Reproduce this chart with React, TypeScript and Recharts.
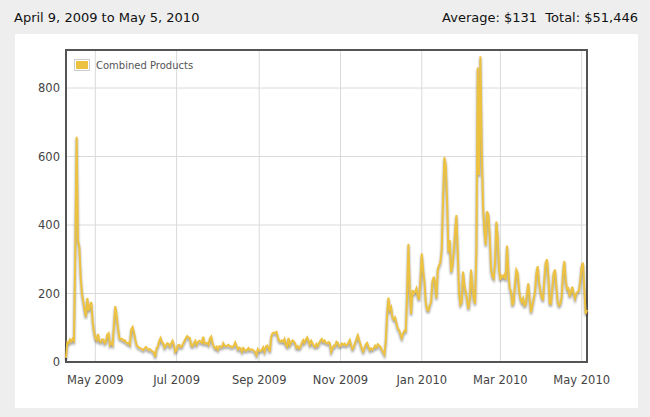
import React from "react";
import {
  LineChart,
  Line,
  XAxis,
  YAxis,
  CartesianGrid,
  Legend,
  ReferenceArea,
} from "recharts";

// daily revenue, Apr 9 2009 .. May 5 2010 (one value per day)
const startDay = "2009-04-09";
const dailySales = [
  12, 58, 55, 66, 60, 68, 62, 330, 658, 356,
  337, 250, 200, 176, 150, 132, 187, 150, 165, 175,
  120, 88, 70, 64, 82, 62, 58, 66, 66, 55,
  60, 80, 84, 50, 56, 50, 110, 163, 137, 100,
  70, 66, 68, 62, 64, 58, 54, 56, 50, 96,
  102, 86, 66, 50, 44, 42, 40, 38, 35, 40,
  44, 40, 35, 38, 34, 30, 28, 15, 41, 45,
  62, 70, 58, 55, 42, 48, 55, 52, 45, 55,
  62, 50, 30, 35, 48, 50, 44, 45, 55, 62,
  70, 76, 72, 70, 48, 46, 55, 62, 50, 58,
  62, 60, 56, 74, 54, 55, 56, 50, 69, 74,
  55, 45, 40, 45, 36, 46, 45, 43, 55, 48,
  46, 48, 50, 45, 45, 43, 48, 57, 47, 37,
  42, 40, 30, 41, 36, 33, 36, 41, 35, 37,
  36, 33, 28, 20, 38, 33, 32, 36, 43, 30,
  45, 48, 42, 30, 74, 84, 86, 85, 88, 72,
  62, 60, 63, 59, 67, 50, 45, 70, 50, 58,
  63, 60, 54, 41, 46, 40, 44, 56, 64, 56,
  66, 72, 62, 50, 62, 55, 47, 44, 53, 47,
  55, 63, 67, 59, 63, 56, 54, 58, 55, 30,
  40, 48, 46, 59, 56, 46, 47, 54, 50, 54,
  48, 50, 57, 64, 48, 38, 44, 57, 67, 78,
  64, 52, 40, 31, 40, 52, 56, 44, 35, 40,
  36, 40, 48, 43, 52, 48, 45, 35, 30, 22,
  60, 140, 188, 152, 160, 130, 124, 130, 113, 97,
  94, 80, 70, 84, 92, 90, 200, 345, 210, 140,
  210, 200, 205, 215, 192, 182, 240, 317, 269, 235,
  175, 152, 150, 166, 175, 235, 249, 230, 186, 270,
  282, 290, 330, 480, 598, 575, 470, 320, 356, 262,
  280, 320, 380, 429, 320, 200, 168, 175, 264, 225,
  205, 180, 155, 181, 270, 220, 185, 170, 327, 860,
  546, 893, 620, 453, 385, 341, 440, 430, 370, 270,
  250, 244, 290, 410, 365, 270, 240, 252, 249, 255,
  240, 340, 265, 215, 205, 165, 175, 230, 269, 260,
  210, 185, 175, 186, 165, 168, 200, 230, 181, 145,
  165, 185, 205, 259, 280, 235, 205, 190, 180, 240,
  290, 300, 250, 171, 170, 215, 260, 270, 220, 175,
  165, 170, 190, 259, 295, 240, 212, 215, 191, 205,
  220, 200, 185, 200, 205, 208, 240, 280, 290, 215,
  140, 152,
];

const monthTicks = [
  "2009-05-01",
  "2009-07-01",
  "2009-09-01",
  "2009-11-01",
  "2010-01-01",
  "2010-03-01",
  "2010-05-01",
];
const monthLabels = [
  "May 2009",
  "Jul 2009",
  "Sep 2009",
  "Nov 2009",
  "Jan 2010",
  "Mar 2010",
  "May 2010",
];
const yTicks = [0, 200, 400, 600, 800];
const yMax = 911;

const seriesName = "Combined Products";
const rangeText = "April 9, 2009 to May 5, 2010";
const summaryText = "Average: $131\u00a0\u00a0Total: $51,446";

const lineColor = "#edc240";
const font = '"DejaVu Sans", sans-serif';
const DAY = 86400000;

const t0 = Date.parse(startDay);
const data = dailySales.map((v, i) => ({ t: t0 + i * DAY, sales: v }));
const tEnd = data[data.length - 1].t;
const tickTimes = monthTicks.map((d) => Date.parse(d));

function LegendBox() {
  return (
    <div
      style={{
        display: "flex",
        alignItems: "center",
        fontFamily: font,
        fontSize: 10,
        color: "#545454",
        whiteSpace: "nowrap",
      }}
    >
      <div style={{ border: "1px solid #ccc", padding: 1 }}>
        <div style={{ width: 12, height: 8, background: lineColor }} />
      </div>
      <span style={{ marginLeft: 6 }}>{seriesName}</span>
    </div>
  );
}

export default function App() {
  return (
    <div
      style={{
        position: "relative",
        width: 650,
        height: 417,
        background: "#eeeeee",
        fontFamily: font,
        overflow: "hidden",
      }}
    >
      <style>{`
        body { margin: 0; }
        .recharts-line-curve { filter: drop-shadow(0px 2px 1px rgba(0,0,0,0.4)); }
      `}</style>
      <div
        style={{
          position: "absolute",
          left: 14,
          top: 10,
          fontSize: 13,
          lineHeight: "15px",
          color: "#111",
        }}
      >
        {rangeText}
      </div>
      <div
        style={{
          position: "absolute",
          right: 12,
          top: 10,
          fontSize: 13,
          lineHeight: "15px",
          color: "#111",
        }}
      >
        {summaryText}
      </div>
      <div
        style={{
          position: "absolute",
          left: 15,
          top: 34,
          width: 623,
          height: 374,
          background: "#fff",
        }}
      />
      <div style={{ position: "absolute", left: 0, top: 0 }}>
        <LineChart
          width={650}
          height={417}
          data={data}
          margin={{ top: 50, right: 63, bottom: 25, left: 30 }}
        >
          <CartesianGrid stroke="#dadada" strokeWidth={1} />
          <XAxis
            dataKey="t"
            type="number"
            domain={[t0, tEnd]}
            ticks={tickTimes}
            tickFormatter={(v) => monthLabels[tickTimes.indexOf(v)] ?? ""}
            axisLine={false}
            tickLine={false}
            tickSize={0}
            tickMargin={14}
            height={30}
            interval={0}
            tick={{ fontSize: 11.5, fill: "#444", fontFamily: font }}
          />
          <YAxis
            type="number"
            domain={[0, yMax]}
            ticks={yTicks}
            allowDataOverflow
            axisLine={false}
            tickLine={false}
            tickSize={0}
            tickMargin={6}
            width={36}
            interval={0}
            tick={{ fontSize: 11.5, fill: "#444", fontFamily: font }}
          />
          <Line
            dataKey="sales"
            name={seriesName}
            type="linear"
            stroke={lineColor}
            strokeWidth={2}
            dot={false}
            activeDot={false}
            isAnimationActive={false}
          />
          <ReferenceArea
            x1={t0}
            x2={tEnd}
            y1={0}
            y2={yMax}
            fill="none"
            stroke="#545454"
            strokeWidth={2}
          />
          <Legend
            layout="vertical"
            align="center"
            verticalAlign="middle"
            wrapperStyle={{ left: 74, top: 59, width: "auto" }}
            content={() => <LegendBox />}
          />
        </LineChart>
      </div>
    </div>
  );
}
